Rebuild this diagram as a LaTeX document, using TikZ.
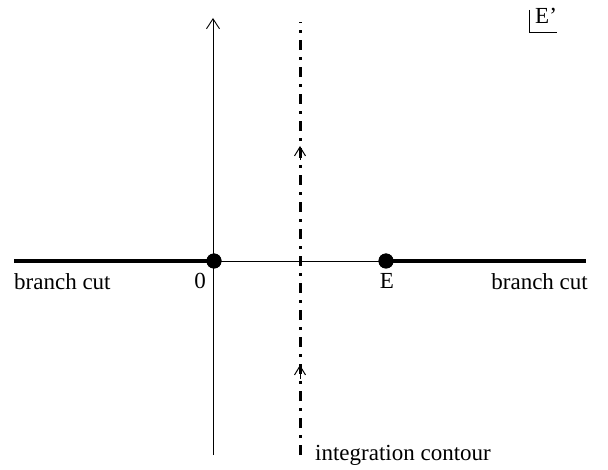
\documentclass[tikz,border=0pt]{standalone}
\usepackage{fontspec}
\setmainfont{Liberation Serif}
\usetikzlibrary{arrows.meta}
\begin{document}
\begin{tikzpicture}[x=1pt,y=-1pt,
  lbl/.style={font=\fontsize{23}{27}\selectfont, inner sep=0pt},
  cut/.style={line width=4pt},
  axis/.style={line width=0.9pt},
  contour/.style={line width=3pt, dash pattern=on 10pt off 7pt on 3pt off 7pt},
  pole/.style={circle, fill=black, minimum size=15pt, inner sep=0pt},
  tip/.style={line width=1pt, -{Straight Barb[length=9pt,width=11pt]}}
]
\useasboundingbox (0,0) rectangle (608,470);
% points
\node[pole] (O) at (214,261) {};
\node[pole] (E) at (386,261) {};
\coordinate (L) at (14,261);
\coordinate (R) at (586,261);
\coordinate (Vb) at (213,455);
\coordinate (Vt) at (213,18);
\coordinate (Cb) at (300,455);
\coordinate (Ct) at (300,22);
% lines
\draw[cut] (L) -- (O.center);
\draw[cut] (E.center) -- (R);
\draw[axis] (O.center) -- (E.center);
\draw[axis, -{Straight Barb[length=10pt,width=13pt]}] (Vb) -- (Vt);
\draw[contour] (Cb) -- (Ct);
\node[pole] at (O) {};
\node[pole] at (E) {};
% arrows on contour
\coordinate (a1s) at (300,160);
\coordinate (a1e) at (300,146);
\coordinate (a2s) at (300,379);
\coordinate (a2e) at (300,365);
\draw[tip] (a1s) -- (a1e);
\draw[tip] (a2s) -- (a2e);
% labels
\node[lbl] (l0) at (200,281) {0};
\node[lbl] (lE) at (387,281) {E};
\node[lbl, anchor=base west] (bl) at (14,290) {branch cut};
\node[lbl, anchor=base east] (br) at (588,290) {branch cut};
\node[lbl, anchor=base west] (ic) at (315,460) {integration contour};
% E' corner
\coordinate (c1) at (529,10);
\coordinate (c2) at (529,32);
\coordinate (c3) at (557,32);
\draw[line width=0.9pt] (c1) -- (c2) -- (c3);
\node[lbl, anchor=base west] (Ep) at (535,24) {E'};
\end{tikzpicture}
\end{document}
